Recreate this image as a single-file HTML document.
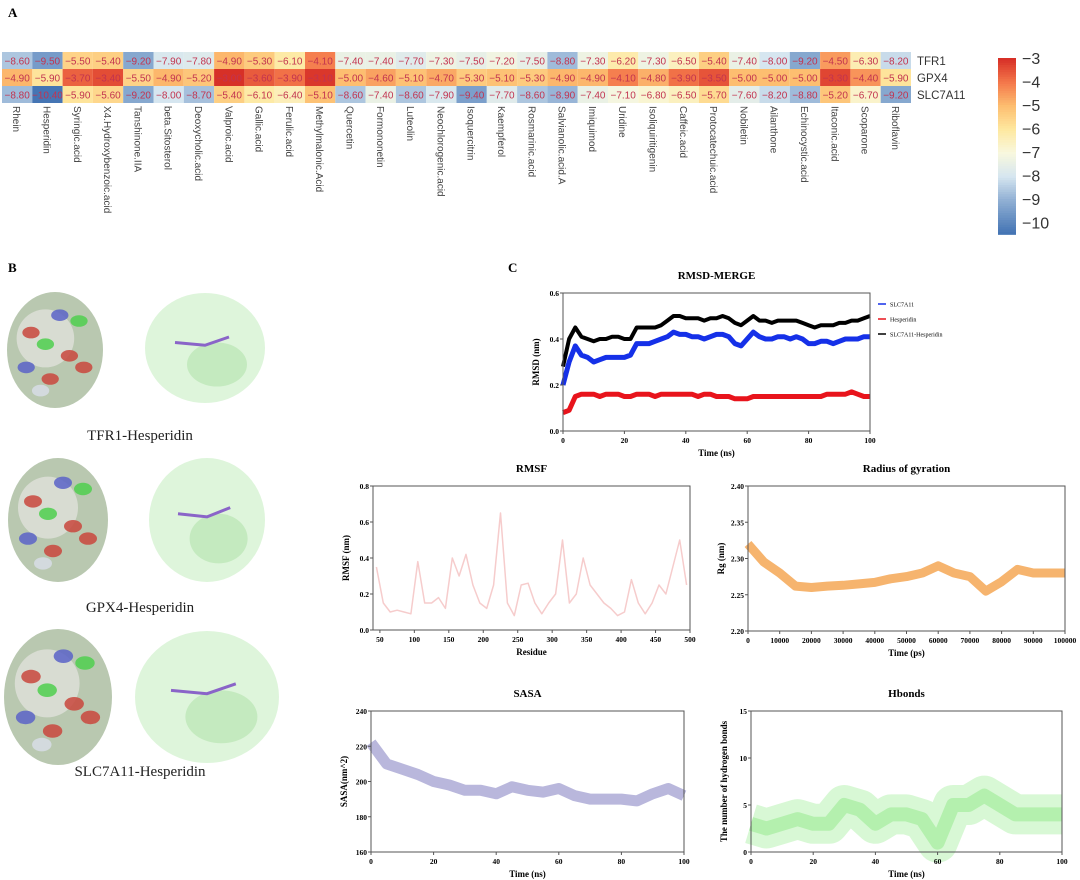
<!DOCTYPE html>
<html><head><meta charset="utf-8">
<style>
body{margin:0;background:#fff;width:1080px;height:880px;overflow:hidden;font-family:"Liberation Sans",sans-serif}
svg{position:absolute;left:0;top:0}
.serif{font-family:"Liberation Serif",serif}
</style></head>
<body>
<svg id="fig" width="1080" height="880" viewBox="0 0 1080 880">
<text x="8" y="17" class="serif" font-size="13" font-weight="bold">A</text>
<text x="8" y="272" class="serif" font-size="13" font-weight="bold">B</text>
<text x="508" y="272" class="serif" font-size="13" font-weight="bold">C</text>
<g id="heat"></g>
<g id="molecules"></g>
<g id="charts"></g>
</svg>
<script>
const compounds=["Rhein","Hesperidin","Syringic.acid","X4.Hydroxybenzoic.acid","Tanshinone.IIA","beta.Sitosterol","Deoxycholic.acid","Valproic.acid","Gallic.acid","Ferulic.acid","Methylmalonic.Acid","Quercetin","Formononetin","Luteolin","Neochlorogenic.acid","Isoquercitrin","Kaempferol","Rosmarinic.acid","Salvianolic.acid.A","Imiquimod","Uridine","Isoliquiritigenin","Caffeic.acid","Protocatechuic.acid","Nobiletin","Ailanthone","Echinocystic.acid","Itaconic.acid","Scoparone","Riboflavin"];
const targets=["TFR1","GPX4","SLC7A11"];
const tfr1=[-8.6,-9.5,-5.5,-5.4,-9.2,-7.9,-7.8,-4.9,-5.3,-6.1,-4.1,-7.4,-7.4,-7.7,-7.3,-7.5,-7.2,-7.5,-8.8,-7.3,-6.2,-7.3,-6.5,-5.4,-7.4,-8.0,-9.2,-4.5,-6.3,-8.2];
const gpx4=[-4.9,-5.9,-3.7,-3.4,-5.5,-4.9,-5.2,-3.0,-3.6,-3.9,-3.1,-5.0,-4.6,-5.1,-4.7,-5.3,-5.1,-5.3,-4.9,-4.9,-4.1,-4.8,-3.9,-3.5,-5.0,-5.0,-5.0,-3.3,-4.4,-5.9];
const slc7a11=[-8.8,-10.4,-5.9,-5.6,-9.2,-8.0,-8.7,-5.4,-6.1,-6.4,-5.1,-8.6,-7.4,-8.6,-7.9,-9.4,-7.7,-8.6,-8.9,-7.4,-7.1,-6.8,-6.5,-5.7,-7.6,-8.2,-8.8,-5.2,-6.7,-9.2];
const cbTicks=[-3,-4,-5,-6,-7,-8,-9,-10];

const rmsdTime=[0,2,4,6,8,10,12,14,16,18,20,22,24,26,28,30,32,34,36,38,40,42,44,46,48,50,52,54,56,58,60,62,64,66,68,70,72,74,76,78,80,82,84,86,88,90,92,94,96,98,100];
const rmsdComplex=[0.28,0.40,0.45,0.41,0.40,0.39,0.40,0.40,0.41,0.41,0.40,0.40,0.45,0.45,0.45,0.45,0.46,0.48,0.50,0.50,0.49,0.49,0.49,0.48,0.49,0.49,0.50,0.49,0.47,0.46,0.48,0.50,0.48,0.48,0.47,0.48,0.48,0.48,0.48,0.47,0.46,0.45,0.46,0.46,0.46,0.47,0.47,0.48,0.48,0.49,0.50];
const rmsdProtein=[0.20,0.30,0.37,0.33,0.32,0.30,0.31,0.32,0.32,0.32,0.32,0.33,0.38,0.38,0.38,0.39,0.40,0.41,0.43,0.42,0.42,0.41,0.41,0.40,0.41,0.42,0.42,0.41,0.38,0.37,0.40,0.43,0.41,0.40,0.40,0.41,0.41,0.40,0.41,0.40,0.38,0.38,0.39,0.39,0.38,0.39,0.40,0.40,0.40,0.41,0.41];
const rmsdLigand=[0.08,0.09,0.15,0.16,0.16,0.16,0.15,0.16,0.16,0.16,0.15,0.15,0.16,0.16,0.16,0.15,0.16,0.16,0.16,0.16,0.16,0.16,0.15,0.16,0.16,0.15,0.15,0.15,0.14,0.14,0.14,0.15,0.15,0.15,0.15,0.15,0.15,0.15,0.15,0.15,0.15,0.15,0.15,0.16,0.16,0.16,0.16,0.17,0.16,0.15,0.15];
const rmsfResidue=[45,55,65,75,85,95,105,115,125,135,145,155,165,175,185,195,205,215,225,235,245,255,265,275,285,295,305,315,325,335,345,355,365,375,385,395,405,415,425,435,445,455,465,475,485,495];
const rmsfValue=[0.35,0.15,0.10,0.11,0.10,0.09,0.38,0.15,0.15,0.18,0.12,0.40,0.30,0.42,0.25,0.15,0.12,0.25,0.65,0.15,0.08,0.25,0.26,0.15,0.09,0.15,0.20,0.50,0.15,0.20,0.40,0.25,0.20,0.15,0.12,0.08,0.10,0.28,0.15,0.09,0.15,0.25,0.20,0.35,0.50,0.25];
const rgTime=[0,5000,10000,15000,20000,25000,30000,35000,40000,45000,50000,55000,60000,65000,70000,75000,80000,85000,90000,95000,100000];
const rgValue=[2.32,2.295,2.28,2.262,2.26,2.262,2.263,2.265,2.267,2.272,2.275,2.28,2.29,2.28,2.275,2.255,2.268,2.285,2.28,2.28,2.28];
const sasaTime=[0,5,10,15,20,25,30,35,40,45,50,55,60,65,70,75,80,85,90,95,100];
const sasaValue=[222,210,207,204,200,198,195,195,193,197,195,194,196,192,190,190,190,189,193,196,192];
const hbTime=[0,5,10,15,20,25,30,35,40,45,50,55,60,65,70,75,80,85,90,95,100];
const hbValue=[3,2.5,3,3.5,3,3,5,4.5,3,4,4,3.5,1,5,5,6,5,4,4,4,4];

const NS='http://www.w3.org/2000/svg';
function mk(tag,attrs,parent,text){const e=document.createElementNS(NS,tag);for(const k in attrs)e.setAttribute(k,attrs[k]);if(text!==undefined)e.textContent=text;parent.appendChild(e);return e;}

// color scale RdYlBu
const stops=[[-10.4,[69,117,180]],[-9,[145,176,212]],[-8,[214,230,240]],[-7,[248,248,222]],[-6,[254,232,160]],[-5,[253,190,112]],[-4,[244,120,75]],[-3,[215,48,39]]];
function col(v){if(v<=stops[0][0])return 'rgb('+stops[0][1]+')';for(let i=1;i<stops.length;i++){if(v<=stops[i][0]){const a=stops[i-1],b=stops[i];const t=(v-a[0])/(b[0]-a[0]);return 'rgb('+a[1].map((c,j)=>Math.round(c+(b[1][j]-c)*t)).join(',')+')';}}return 'rgb('+stops[stops.length-1][1]+')';}

const heat=document.getElementById('heat');
const cx0=2,cw=30.3,ry0=52,rh=17;
const rows=[tfr1,gpx4,slc7a11];
rows.forEach((arr,r)=>{
  arr.forEach((v,c)=>{
    const rc=mk('rect',{x:cx0+c*cw,y:ry0+r*rh,width:cw,height:rh,fill:col(v)},heat);
    
    
    const t=mk('text',{x:cx0+c*cw+cw/2,y:ry0+r*rh+12.5,'font-size':10,'text-anchor':'middle',fill:'#c2334f'},heat,'−'+Math.abs(v).toFixed(2));
    
    
  });
  const lb=mk('text',{x:cx0+30*cw+6,y:ry0+r*rh+13,'font-size':11.5,fill:'#333'},heat,targets[r]);
  
  
});
compounds.forEach((n,c)=>{
  const x=cx0+c*cw+cw/2-4,y=106;
  const t=mk('text',{x:x,y:y,'font-size':10,fill:'#444',transform:'rotate(90 '+x+' '+y+')'},heat,n);
  
  
});
// colorbar
const cbTop=58,cbUnit=23.5,cbX=998;
for(let v=-3;v>-10.4;v-=0.1){const r=mk('rect',{x:cbX,y:cbTop+(-3-v)*cbUnit,width:18,height:cbUnit*0.1+0.6,fill:col(v)},heat);}
const cbg=mk('g',{},heat);
cbTicks.forEach(v=>{const t=mk('text',{x:1022,y:cbTop+(-3-v)*cbUnit+6,'font-size':16,fill:'#333'},cbg,'−'+Math.abs(v));});

// molecules
const mol=document.getElementById('molecules');
function surface(cx,cy,rx,ry,name){
  const g=mk('g',{},mol);
  mk('ellipse',{cx:cx,cy:cy,rx:rx,ry:ry,fill:'#b9c8b0'},g);
  mk('ellipse',{cx:cx-rx*0.2,cy:cy-ry*0.2,rx:rx*0.6,ry:ry*0.5,fill:'#d8dcd2'},g);
  const spots=[[-0.5,-0.3,'#c9463d'],[0.3,0.1,'#c9463d'],[-0.1,0.5,'#c9463d'],[0.5,-0.5,'#4fcf4f'],[-0.2,-0.1,'#4fcf4f'],[0.1,-0.6,'#5a63c8'],[-0.6,0.3,'#5a63c8'],[0.6,0.3,'#c9463d'],[-0.3,0.7,'#d7dde6']];
  spots.forEach(s=>mk('ellipse',{cx:cx+s[0]*rx,cy:cy+s[1]*ry,rx:rx*0.18,ry:ry*0.1,fill:s[2],opacity:0.85},g));
}
function ribbon(cx,cy,rx,ry,name){
  const g=mk('g',{},mol);
  mk('ellipse',{cx:cx,cy:cy,rx:rx,ry:ry,fill:'#d6f2d2',opacity:0.8},g);
  mk('ellipse',{cx:cx+rx*0.2,cy:cy+ry*0.3,rx:rx*0.5,ry:ry*0.4,fill:'#b9e6b3',opacity:0.7},g);
  mk('path',{d:'M'+(cx-rx*0.5)+' '+(cy-ry*0.1)+' L'+(cx)+' '+(cy-ry*0.05)+' L'+(cx+rx*0.4)+' '+(cy-ry*0.2),stroke:'#8a64c8','stroke-width':3,fill:'none'},g);
}
surface(55,350,48,58,'tfr1-surface');ribbon(205,348,60,55,'tfr1-ribbon');
surface(58,520,50,62,'gpx4-surface');ribbon(207,520,58,62,'gpx4-ribbon');
surface(58,697,54,68,'slc7a11-surface');ribbon(207,697,72,66,'slc7a11-ribbon');
[['TFR1-Hesperidin',440],['GPX4-Hesperidin',612],['SLC7A11-Hesperidin',776]].forEach(l=>{const t=mk('text',{x:140,y:l[1],'font-size':15,'text-anchor':'middle',fill:'#222',class:'serif'},mol,l[0]);});

// charts
const charts=document.getElementById('charts');
function chart(o){
  const g=mk('g',{},charts);
  const sx=v=>o.x0+(v-o.xmin)/(o.xmax-o.xmin)*(o.x1-o.x0);
  const sy=v=>o.y1-(v-o.ymin)/(o.ymax-o.ymin)*(o.y1-o.y0);
  const title=mk('text',{x:(o.x0+o.x1)/2,y:o.y0-14,'font-size':11,'font-weight':'bold','text-anchor':'middle',class:'serif'},g,o.title);
  
  o.series.forEach(s=>{
    const d=s.xs.map((x,i)=>(i?'L':'M')+sx(x).toFixed(1)+' '+sy(s.ys[i]).toFixed(1)).join(' ');
    const p=mk('path',{d:d,stroke:s.color,'stroke-width':s.w,fill:'none','stroke-linejoin':'round',opacity:s.op||1},g);
    
  });
  mk('rect',{x:o.x0,y:o.y0,width:o.x1-o.x0,height:o.y1-o.y0,fill:'none',stroke:'#555','stroke-width':1},g);
  o.xt.forEach(v=>{mk('line',{x1:sx(v),x2:sx(v),y1:o.y1,y2:o.y1+3,stroke:'#555'},g);const t=mk('text',{x:sx(v),y:o.y1+12,'font-size':7.5,'font-weight':'bold','text-anchor':'middle',class:'serif'},g,v);});
  o.yt.forEach(v=>{mk('line',{x1:o.x0-3,x2:o.x0,y1:sy(v),y2:sy(v),stroke:'#555'},g);const t=mk('text',{x:o.x0-4,y:sy(v)+3,'font-size':7.5,'font-weight':'bold','text-anchor':'end',class:'serif'},g,o.yf(v));});
  const xl=mk('text',{x:(o.x0+o.x1)/2,y:o.y1+25,'font-size':9,'font-weight':'bold','text-anchor':'middle',class:'serif'},g,o.xlabel);
  
  const yx=o.x0-24,yy=(o.y0+o.y1)/2;
  const yl=mk('text',{x:yx,y:yy,'font-size':9,'font-weight':'bold','text-anchor':'middle',class:'serif',transform:'rotate(-90 '+yx+' '+yy+')'},g,o.ylabel);
  
  return g;
}
const rm=chart({name:'rmsd-chart',title:'RMSD-MERGE',x0:563,x1:870,y0:293,y1:431,xmin:0,xmax:100,ymin:0,ymax:0.6,xt:[0,20,40,60,80,100],yt:[0,0.2,0.4,0.6],yf:v=>v.toFixed(1),xlabel:'Time (ns)',ylabel:'RMSD (nm)',
 series:[{name:'line-complex',xs:rmsdTime,ys:rmsdComplex,color:'#000',w:4},{name:'line-protein',xs:rmsdTime,ys:rmsdProtein,color:'#1530e8',w:5},{name:'line-ligand',xs:rmsdTime,ys:rmsdLigand,color:'#e8141c',w:5}]});
[['SLC7A11','#1530e8'],['Hesperidin','#e8141c'],['SLC7A11-Hesperidin','#000']].forEach((l,i)=>{const y=304+i*15;mk('line',{x1:878,x2:886,y1:y,y2:y,stroke:l[1],'stroke-width':1.5},rm);const t=mk('text',{x:890,y:y+2.5,'font-size':6,class:'serif'},rm,l[0]);});
chart({name:'rmsf-chart',title:'RMSF',x0:373,x1:690,y0:486,y1:630,xmin:40,xmax:500,ymin:0,ymax:0.8,xt:[50,100,150,200,250,300,350,400,450,500],yt:[0,0.2,0.4,0.6,0.8],yf:v=>v.toFixed(1),xlabel:'Residue',ylabel:'RMSF (nm)',
 series:[{name:'rmsf-line',xs:rmsfResidue,ys:rmsfValue,color:'#f6cccc',w:1.5}]});
chart({name:'rg-chart',title:'Radius of gyration',x0:748,x1:1065,y0:486,y1:631,xmin:0,xmax:100000,ymin:2.2,ymax:2.4,xt:[0,10000,20000,30000,40000,50000,60000,70000,80000,90000,100000],yt:[2.2,2.25,2.3,2.35,2.4],yf:v=>v.toFixed(2),xlabel:'Time (ps)',ylabel:'Rg (nm)',
 series:[{name:'rg-line',xs:rgTime,ys:rgValue,color:'#f6b46e',w:9}]});
chart({name:'sasa-chart',title:'SASA',x0:371,x1:684,y0:711,y1:852,xmin:0,xmax:100,ymin:160,ymax:240,xt:[0,20,40,60,80,100],yt:[160,180,200,220,240],yf:v=>v,xlabel:'Time (ns)',ylabel:'SASA(nm^2)',
 series:[{name:'sasa-line',xs:sasaTime,ys:sasaValue,color:'#b9b7dc',w:11}]});
chart({name:'hbonds-chart',title:'Hbonds',x0:751,x1:1062,y0:711,y1:852,xmin:0,xmax:100,ymin:0,ymax:15,xt:[0,20,40,60,80,100],yt:[0,5,10,15],yf:v=>v,xlabel:'Time (ns)',ylabel:'The number of hydrogen bonds',
 series:[{name:'hbonds-band',xs:hbTime,ys:hbValue,color:'#d4f7d0',w:40,op:0.9},{name:'hbonds-line',xs:hbTime,ys:hbValue,color:'#b4f0ae',w:14}]});
</script>
</body></html>
